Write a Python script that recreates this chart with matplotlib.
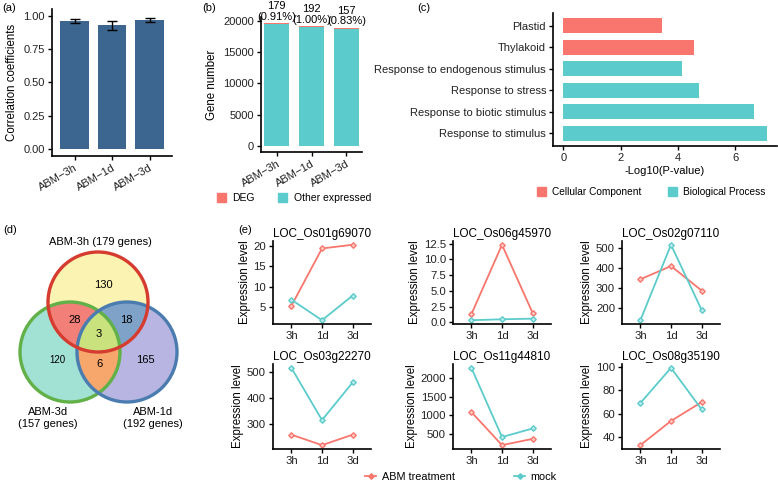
import matplotlib
matplotlib.use("Agg")
import matplotlib.pyplot as plt
import numpy as np
from matplotlib.patches import Patch, Circle
from matplotlib.lines import Line2D

plt.rcParams["font.family"] = ["Liberation Sans", "DejaVu Sans"]
plt.rcParams["font.size"] = 8

# (a) correlation coefficients
corr_groups = ["ABM−3h", "ABM−1d", "ABM−3d"]
corr_mean = [0.96, 0.93, 0.97]
corr_err = [0.015, 0.035, 0.013]

# (b) gene numbers
deg_counts = [179, 192, 157]
deg_pct = [0.91, 1.00, 0.83]
other_counts = [19491, 19008, 18759]

# (c) GO enrichment (bottom to top)
go_terms = ["Response to stimulus", "Response to biotic stimulus", "Response to stress",
            "Response to endogenous stimulus", "Thylakoid", "Plastid"]
go_values = [7.10, 6.64, 4.72, 4.13, 4.55, 3.46]
go_class = ["BP", "BP", "BP", "BP", "CC", "CC"]

# (d) Venn counts: only-3h, only-3d, only-1d, 3h&3d, 3h&1d, 3d&1d, all
venn_counts = [130, 120, 165, 28, 18, 6, 3]
venn_sets = ["ABM-3h (179 genes)", "ABM-3d\n(157 genes)", "ABM-1d\n(192 genes)"]

# (e) expression profiles
time_points = ["3h", "1d", "3d"]
genes = ["LOC_Os01g69070", "LOC_Os06g45970", "LOC_Os02g07110",
         "LOC_Os03g22270", "LOC_Os11g44810", "LOC_Os08g35190"]
abm_expr = [[5.3, 19.3, 20.2], [1.3, 12.3, 1.5], [343, 409, 287],
            [260, 220, 260], [1085, 190, 360], [32.7, 53.6, 69.9]]
mock_expr = [[6.8, 1.8, 7.8], [0.35, 0.5, 0.6], [139, 515, 190],
             [516, 316, 460], [2280, 410, 640], [69.1, 99.5, 63.6]]
expr_ticks = [[5, 10, 15, 20], [0, 2.5, 5, 7.5, 10, 12.5], [200, 300, 400, 500],
              [300, 400, 500], [500, 1000, 1500, 2000], [40, 60, 80, 100]]

RED = "#F8766D"
TEAL = "#5CCBCB"
W, H = 778, 483

fig = plt.figure(figsize=(W / 100, H / 100), dpi=100)


def px_axes(x0, y0, x1, y1):
    return fig.add_axes([x0 / W, 1 - y1 / H, (x1 - x0) / W, (y1 - y0) / H])


def classic(ax):
    for s in ["top", "right"]:
        ax.spines[s].set_visible(False)
    for s in ["left", "bottom"]:
        ax.spines[s].set_linewidth(1.2)
    ax.tick_params(length=3, width=1, colors="black", labelcolor="#222222", pad=2)


# ---- (a)
ax = px_axes(52, 9.4, 172, 155.6)
x = np.arange(1, len(corr_groups) + 1)
ax.bar(x, corr_mean, width=0.75, color="#3C6590")
ax.errorbar(x, corr_mean, yerr=corr_err, fmt="none", ecolor="black", elinewidth=1,
            capsize=3.5, capthick=1)
ax.set_xlim(0.4, 3.6)
ax.set_ylim(-0.05, 1.05)
ax.set_yticks([0, 0.25, 0.5, 0.75, 1.0])
ax.set_yticklabels(["0.00", "0.25", "0.50", "0.75", "1.00"])
ax.set_xticks(x)
ax.set_xticklabels(corr_groups, rotation=30, ha="right", rotation_mode="anchor")
ax.set_ylabel("Correlation coefficients", fontsize=8.3)
classic(ax)
fig.text(2 / W, 1 - 8 / H, "(a)", fontsize=8, va="center")

# ---- (b)
ax = px_axes(261, 17, 362, 152)
ax.bar(x, other_counts, width=0.7, color=TEAL)
ax.bar(x, deg_counts, bottom=other_counts, width=0.7, color=RED)
for xi, o, d, p in zip(x, other_counts, deg_counts, deg_pct):
    ax.text(xi, o + d + 250, f"{d}\n({p:.2f}%)", ha="center", va="bottom",
            fontsize=8, linespacing=1.05, clip_on=False)
ax.set_xlim(0.55, 3.45)
ax.set_ylim(-983, 20653)
ax.set_yticks([0, 5000, 10000, 15000, 20000])
ax.set_xticks(x)
ax.set_xticklabels(corr_groups, rotation=30, ha="right", rotation_mode="anchor")
ax.set_ylabel("Gene number", fontsize=8.3)
classic(ax)
fig.text(202 / W, 1 - 8 / H, "(b)", fontsize=8, va="center")
fig.legend([Patch(color=RED), Patch(color=TEAL)], ["DEG", "Other expressed"],
           loc="center", bbox_to_anchor=(294 / W, 1 - 198 / H), ncol=2, frameon=False,
           handlelength=0.9, handleheight=0.9, columnspacing=2.2, handletextpad=0.6,
           fontsize=7.5)

# ---- (c)
ax = px_axes(553, 13, 777, 146)
y = np.arange(1, len(go_terms) + 1)
ax.barh(y, go_values, height=0.7, color=[RED if c == "CC" else TEAL for c in go_class])
ax.set_yticks(y)
ax.set_yticklabels(go_terms)
ax.set_ylim(0.4, 6.6)
ax.set_xlim(-0.355, 7.45)
ax.set_xticks([0, 2, 4, 6])
ax.set_xlabel("-Log10(P-value)", labelpad=2)
classic(ax)
fig.text(417 / W, 1 - 8 / H, "(c)", fontsize=8, va="center")
fig.legend([Patch(color=RED), Patch(color=TEAL)], ["Cellular Component", "Biological Process"],
           loc="center", bbox_to_anchor=(651 / W, 1 - 192 / H), ncol=2, frameon=False,
           handlelength=0.9, handleheight=0.9, columnspacing=2.6, handletextpad=0.6,
           fontsize=7.3)

# ---- (d) Venn
ax = px_axes(0, 215, 225, 440)
ax.set_xlim(0, 225)
ax.set_ylim(440, 215)
ax.axis("off")
centers = [(98, 302), (70, 352), (127, 352)]
radius = 50
N = 900
gx, gy = np.meshgrid(np.linspace(0, 225, N), np.linspace(215, 440, N))
inside = [((gx - cx) ** 2 + (gy - cy) ** 2) <= radius ** 2 for cx, cy in centers]
code = inside[0] * 1 + inside[1] * 2 + inside[2] * 4
region_colors = {1: "#FBF4B2", 2: "#A2E3D6", 4: "#BAB5E2", 3: "#F47F7A",
                 5: "#7FA3C8", 6: "#F8A86C", 7: "#C9E37D"}
img = np.zeros((N, N, 4))
for k, col in region_colors.items():
    img[code == k] = matplotlib.colors.to_rgba(col)
ax.imshow(img, extent=(0, 225, 440, 215), origin="upper", interpolation="bilinear")
for (cx, cy), ec in zip([centers[1], centers[2], centers[0]],
                        ["#62B048", "#4B7CB0", "#D63B2F"]):
    ax.add_patch(Circle((cx, cy), radius, fill=False, ec=ec, lw=2.4))
venn_pos = [(103, 285), (57, 360), (145, 360), (75, 320), (126, 320), (99, 364), (99, 334)]
for (tx, ty), n in zip(venn_pos, venn_counts):
    ax.text(tx, ty, str(n), ha="center", va="center", fontsize=7 if n == 120 else 8)
ax.text(100, 242, venn_sets[0], ha="center", va="center", fontsize=8)
ax.text(48, 418, venn_sets[1], ha="center", va="center", fontsize=8, linespacing=1.3)
ax.text(153, 418, venn_sets[2], ha="center", va="center", fontsize=8, linespacing=1.3)
fig.text(3 / W, 1 - 230 / H, "(d)", fontsize=8, va="center")

# ---- (e)
cols = [(273, 371), (453, 551), (622, 720)]
rows = [(241, 324), (364, 449)]
for i, g in enumerate(genes):
    r, c = divmod(i, 3)
    ax = px_axes(cols[c][0], rows[r][0], cols[c][1], rows[r][1])
    xp = np.arange(1, 4)
    ax.plot(xp, abm_expr[i], color=RED, lw=1.3, marker="D", ms=2.8, mfc="#FCC9C4")
    ax.plot(xp, mock_expr[i], color=TEAL, lw=1.3, marker="D", ms=2.8, mfc="#BDEBEB")
    ax.set_xlim(0.4, 3.6)
    ax.margins(y=0.05)
    ax.set_xticks(xp)
    ax.set_xticklabels(time_points)
    ax.set_yticks(expr_ticks[i])
    if i == 1:
        ax.set_yticklabels([f"{t:.1f}" for t in expr_ticks[i]])
    ax.set_title(g, fontsize=8.5, pad=3)
    ax.set_ylabel("Expression level", fontsize=8.3, labelpad=2)
    ax.tick_params(labelsize=8.2)
    classic(ax)
fig.text(238 / W, 1 - 230 / H, "(e)", fontsize=8, va="center")
fig.legend([Line2D([], [], color=RED, marker="D", ms=2.8, lw=1.3),
            Line2D([], [], color=TEAL, marker="D", ms=2.8, lw=1.3)],
           ["ABM treatment", "mock"], loc="center", bbox_to_anchor=(461 / W, 1 - 477 / H),
           ncol=2, frameon=False, handlelength=1.0, columnspacing=5.5, handletextpad=0.5,
           fontsize=7.8)

fig.savefig("out.png", dpi=100)
